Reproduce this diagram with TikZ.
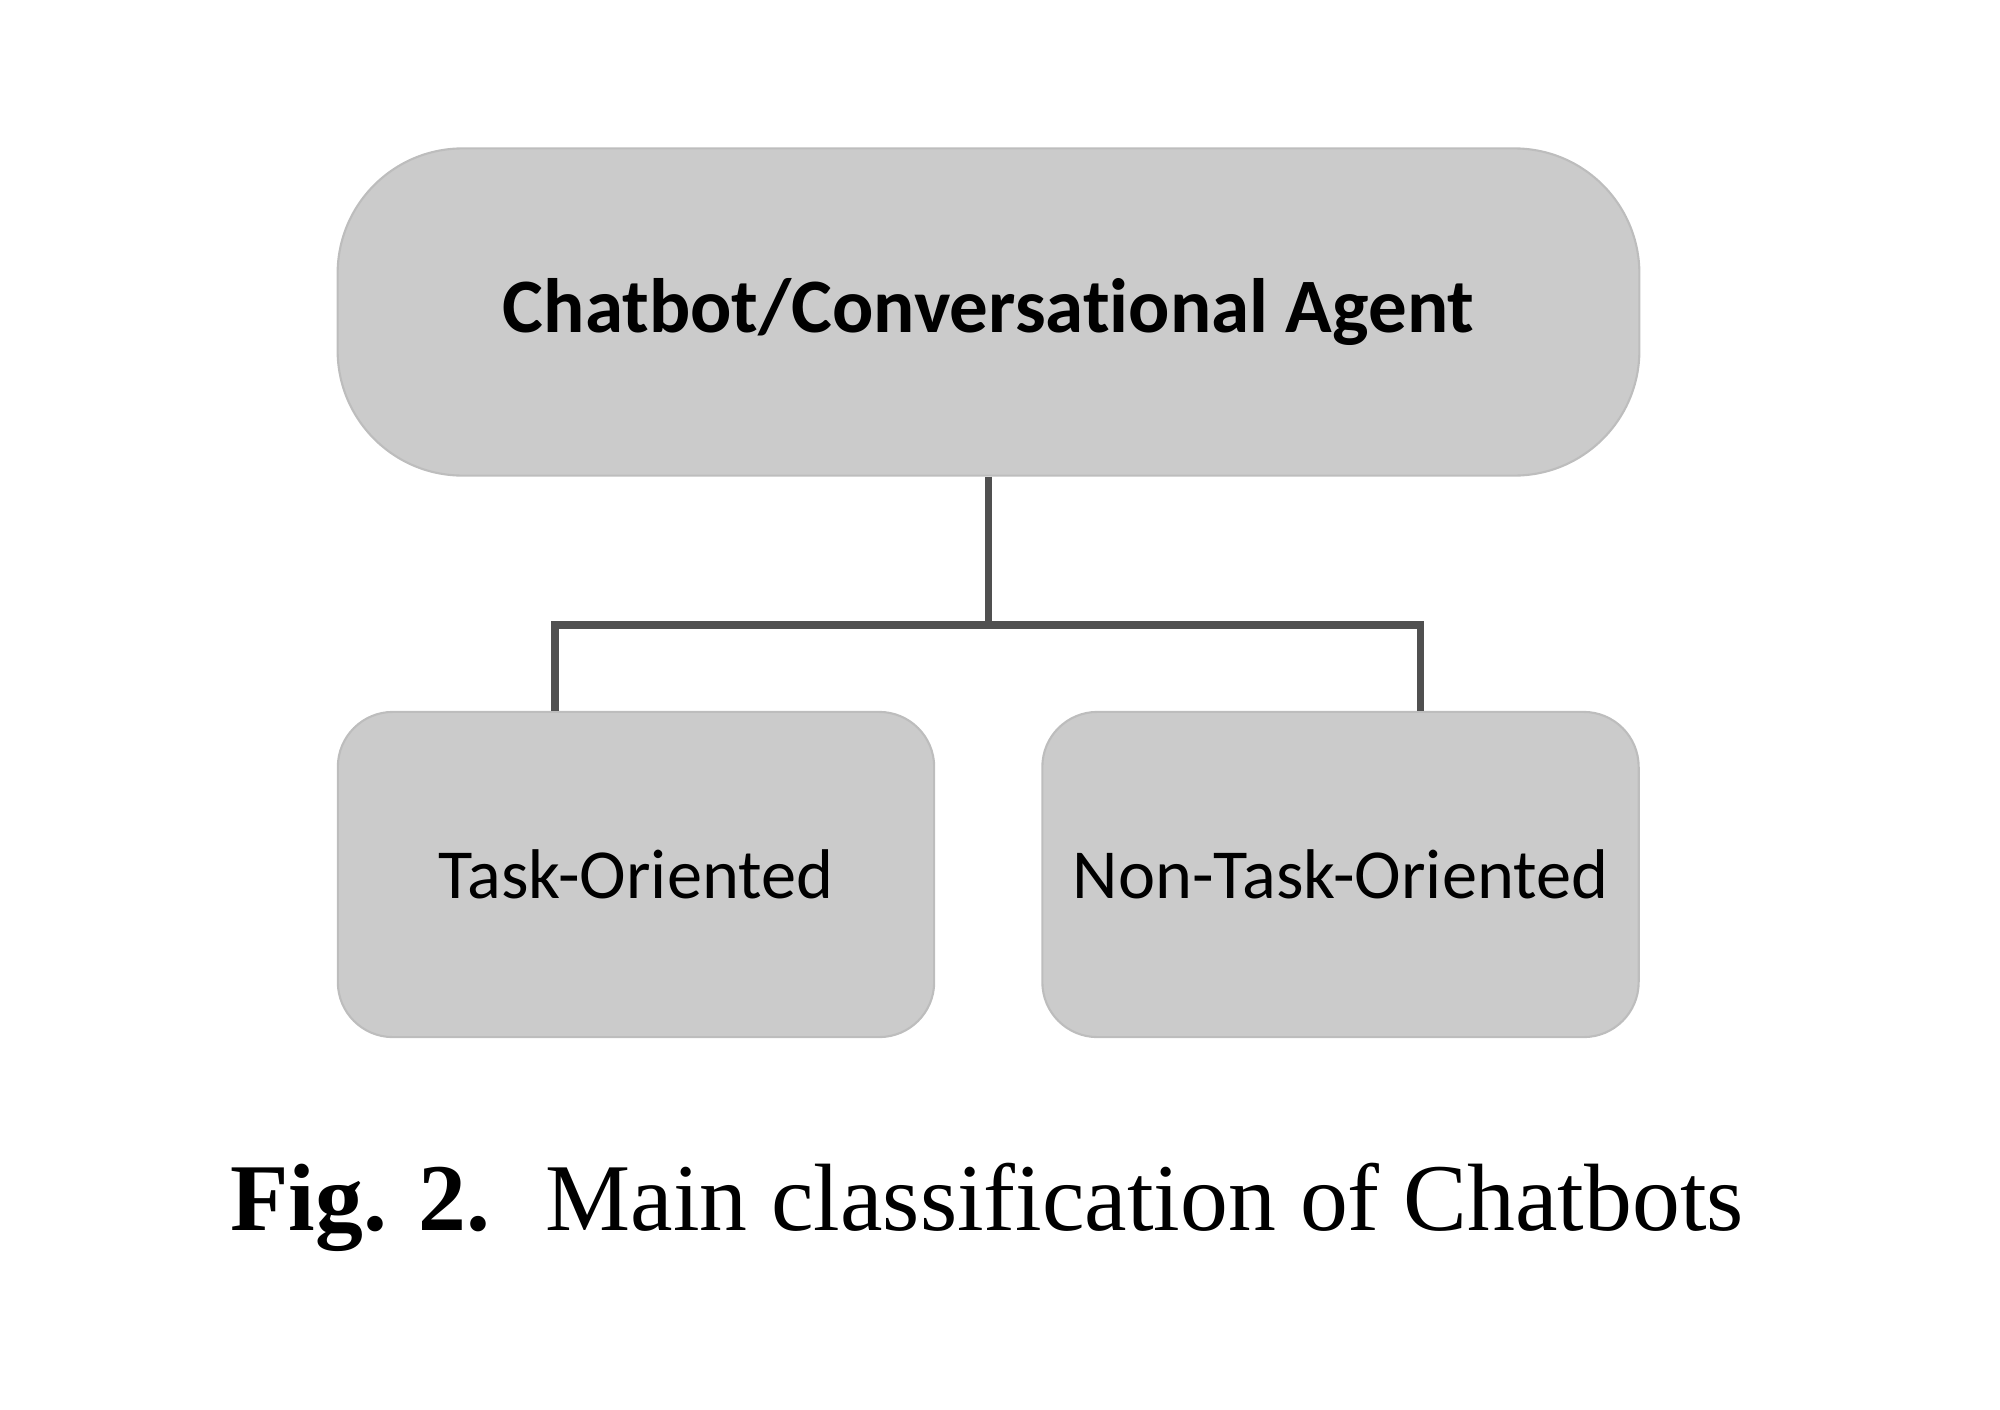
\documentclass[tikz,border=0pt]{standalone}
\usepackage{fontspec}
\setmainfont{Liberation Serif}
\newfontfamily\boxfont[Ligatures=NoCommon]{Carlito}
\definecolor{boxfill}{HTML}{CBCBCB}
\definecolor{boxline}{HTML}{BDBDBD}
\definecolor{conn}{HTML}{505050}
\begin{document}
\begin{tikzpicture}[x=0.01cm,y=-0.01cm,
  topbox/.style={draw=boxline, line width=0.6pt, fill=boxfill, rounded corners=1.25cm,
    minimum width=13.01cm, minimum height=3.27cm, inner sep=0pt,
    font=\boxfont\fontsize{21.9}{26}\selectfont\bfseries},
  subbox/.style={draw=boxline, line width=0.6pt, fill=boxfill, rounded corners=0.55cm,
    minimum width=5.96cm, minimum height=3.25cm, inner sep=0pt,
    font=\boxfont\fontsize{20}{24}\selectfont},
  connector/.style={draw=conn, line width=2pt}]
\useasboundingbox (0,0) rectangle (2000,1409);
\node[topbox] (top) at (988.5,312) {Chatbot/Conversational Agent};
\node[subbox] (left) at (636,874.5) {Task-Oriented};
\node[subbox] (right) at (1340.5,874.5) {Non-Task-Oriented};
\coordinate (hub) at (988.5,625);
\coordinate (lj) at (555,625);
\coordinate (rj) at (1420,625);
\draw[connector] (top.south) -- (hub);
\draw[connector] (lj |- left.north) -- (lj) -- (rj) -- (rj |- right.north);
\node[font=\fontsize{27.2}{32}\selectfont, anchor=base] (cap) at (987,1230)
  {\textbf{Fig. 2.}\hspace{0.55cm}Main classification of Chatbots};
\end{tikzpicture}
\end{document}
